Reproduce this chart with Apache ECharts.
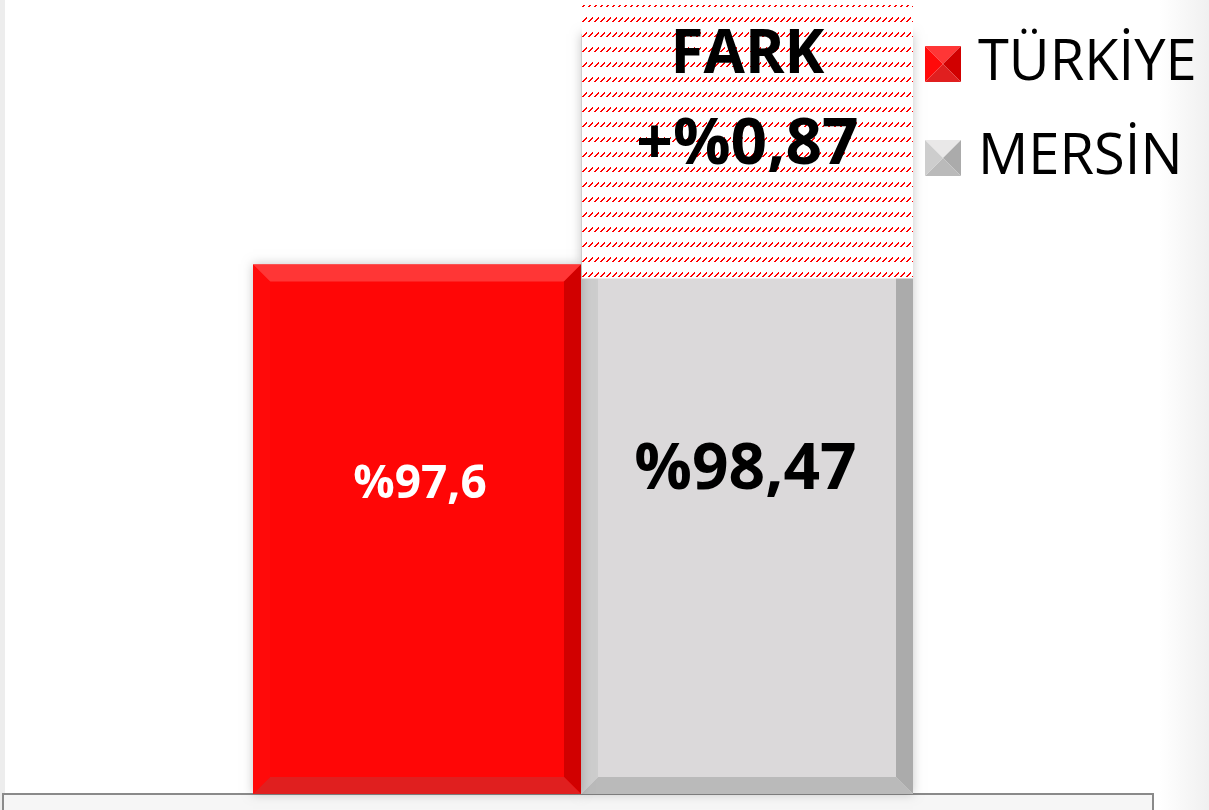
<!DOCTYPE html>
<html><head><meta charset="utf-8">
<script src="https://cdn.jsdelivr.net/npm/echarts@6/dist/echarts.min.js"></script>
<style>html,body{margin:0;padding:0;background:#fff}#c{width:1209px;height:810px}</style>
</head><body><div id="c"></div>
<script>
// ---- data ----
const categories = ['Oran'];
const seriesNames = ['TÜRKİYE', 'MERSİN', 'FARK'];
const turkiye = [97.6];
const mersin = [98.47];
const fark = [0.87];
const turkiyeLabels = ['%97,6'];
const mersinLabels = ['%98,47'];
const farkLabels = ['FARK', '+%0,87'];

// ---- styles ----
const Y_MIN = 95.6, Y_MAX = 98.58;
const BEVEL = 17;
const RED = {main:'#ff0606', top:'#ff3636', right:'#d10000', bottom:'#e01f1f', left:'#ff0a0a'};
const GREY = {main:'#dbd9da', top:'#e9e8e8', right:'#ababab', bottom:'#bababa', left:'#cdcdcd'};
const FONT = '"Open Sans", "Noto Sans", sans-serif';

function pyramidIcon(c) {
  const cv = document.createElement('canvas'); cv.width = 36; cv.height = 36;
  const g = cv.getContext('2d');
  const tri = (pts, col) => { g.fillStyle = col; g.beginPath(); g.moveTo(pts[0][0], pts[0][1]); pts.slice(1).forEach(p => g.lineTo(p[0], p[1])); g.closePath(); g.fill(); };
  tri([[0,0],[36,0],[18,18]], c.top);
  tri([[36,0],[36,36],[18,18]], c.right);
  tri([[0,36],[36,36],[18,18]], c.bottom);
  tri([[0,0],[0,36],[18,18]], c.left);
  return 'image://' + cv.toDataURL();
}
function hatchPattern() {
  const cv = document.createElement('canvas'); cv.width = 6; cv.height = 15;
  const g = cv.getContext('2d');
  g.fillStyle = '#fff'; g.fillRect(0, 0, 6, 15);
  g.fillStyle = '#f00';
  [[0,6],[1,5],[2,4],[3,3],[4,2],[1,6],[2,5],[3,4],[4,3]].forEach(p => g.fillRect(p[0], p[1], 1, 1));
  return cv;
}

function bevelShapes(x0, y0, x1, y1, b, c, shadow) {
  const poly = (pts, col) => ({type:'polygon', shape:{points:pts}, style:{fill:col}});
  const out = [];
  out.push({type:'rect', shape:{x:x0, y:y0, width:x1-x0, height:y1-y0},
    style:{fill:c.main, shadowBlur:shadow ? 10 : 0, shadowColor:'rgba(0,0,0,0.22)'}});
  out.push(poly([[x0,y0],[x1,y0],[x1-b,y0+b],[x0+b,y0+b]], c.top));
  out.push(poly([[x1,y0],[x1,y1],[x1-b,y1-b],[x1-b,y0+b]], c.right));
  out.push(poly([[x0,y1],[x1,y1],[x1-b,y1-b],[x0+b,y1-b]], c.bottom));
  out.push(poly([[x0,y0],[x0+b,y0+b],[x0+b,y1-b],[x0,y1]], c.left));
  return out;
}

const pattern = hatchPattern();

const option = {
  animation: false,
  backgroundColor: '#ffffff',
  grid: {left: 3, right: 56, top: 5, bottom: 16},
  xAxis: {type:'category', data: categories, axisLine:{show:true, lineStyle:{color:'#8a8a8a', width:2}},
    axisTick:{show:false}, axisLabel:{show:false}, splitLine:{show:false}},
  yAxis: {type:'value', min: Y_MIN, max: Y_MAX, show:false, splitLine:{show:false}},
  legend: {
    orient:'vertical', left: 925, top: 36, itemWidth: 36, itemHeight: 36, itemGap: 38, padding: 0,
    selectedMode: false,
    textStyle: {fontFamily: FONT, fontSize: 56, color:'#000', padding:[0,0,0,12]},
    data: [{name: seriesNames[0], icon: pyramidIcon(RED)}, {name: seriesNames[1], icon: pyramidIcon(GREY)}]
  },
  graphic: [
    {type:'rect', z:-10, shape:{x:0, y:0, width:5, height:810}, style:{fill:'#ededed'}},
    {type:'rect', z:-10, shape:{x:1160, y:0, width:49, height:810},
      style:{fill:{type:'linear', x:0, y:0, x2:1, y2:0, colorStops:[{offset:0, color:'#ffffff'},{offset:1, color:'#f0f0f0'}]}}},
    {type:'rect', z:-10, shape:{x:3, y:794, width:1150, height:20}, style:{fill:'#f6f6f6', stroke:'#8a8a8a', lineWidth:2}}
  ],
  series: [
    {
      name: seriesNames[0], type:'custom', z: 3,
      data: categories.map((c, i) => [i, turkiye[i]]),
      renderItem: function (params, api) {
        const p = api.coord([api.value(0), api.value(1)]);
        const base = api.coord([api.value(0), Y_MIN])[1];
        const x0 = p[0] - 325, x1 = p[0] + 3;
        const kids = bevelShapes(x0, p[1], x1, base, BEVEL, RED, true);
        kids.push({type:'text', style:{text: turkiyeLabels[params.dataIndex], x:(x0+x1)/2 + 3, y:p[1]+220,
          fill:'#fff', font:'bold 46px ' + FONT, textAlign:'center', textVerticalAlign:'middle'}});
        return {type:'group', children: kids};
      }
    },
    {
      name: seriesNames[1], type:'custom', z: 2,
      data: categories.map((c, i) => [i, mersin[i]]),
      renderItem: function (params, api) {
        const p = api.coord([api.value(0), api.value(1)]);
        const base = api.coord([api.value(0), Y_MIN])[1];
        const x0 = p[0] + 3, x1 = p[0] + 335;
        return {type:'group', children: bevelShapes(x0, p[1], x1, base, BEVEL, GREY, true)};
      }
    },
    {
      name: seriesNames[2], type:'custom', z: 4,
      data: categories.map((c, i) => [i, mersin[i], fark[i]]),
      renderItem: function (params, api) {
        const top = api.coord([api.value(0), api.value(1)]);
        const bot = api.coord([api.value(0), api.value(1) - api.value(2)]);
        const x0 = top[0] + 4, x1 = top[0] + 335;
        const y0 = top[1] - 29, y1 = bot[1] + 14;
        const cx = (x0 + x1) / 2;
        return {type:'group', children: [
          {type:'rect', shape:{x:x0, y:y0, width:x1-x0, height:y1-y0}, style:{fill:{image: pattern, repeat:'repeat'}}},
          {type:'text', style:{text: farkLabels[0], x:cx, y:y0+51, fill:'#000', font:'bold 60px ' + FONT, textAlign:'center', textVerticalAlign:'middle'}},
          {type:'text', style:{text: farkLabels[1], x:cx, y:y0+141, fill:'#000', font:'bold 64px ' + FONT, textAlign:'center', textVerticalAlign:'middle'}},
          {type:'text', style:{text: mersinLabels[params.dataIndex], x:cx - 2, y:y1+192, fill:'#000', font:'bold 64px ' + FONT, textAlign:'center', textVerticalAlign:'middle'}}
        ]};
      }
    }
  ]
};
const chart = echarts.init(document.getElementById('c'), null, {renderer:'canvas'});
chart.setOption(option);
</script>
</body></html>
